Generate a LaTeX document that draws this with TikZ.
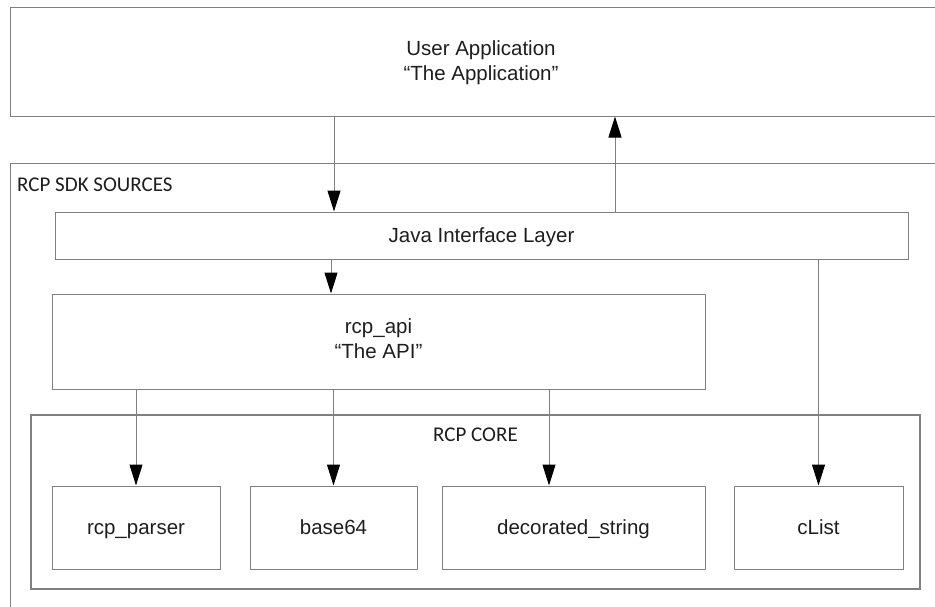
\documentclass[tikz,border=0pt]{standalone}
\usepackage{fontspec}
\setmainfont{Liberation Sans}
\newfontfamily\carl{Carlito}
\usetikzlibrary{arrows.meta}
\definecolor{linegray}{HTML}{808080}
\definecolor{txt}{HTML}{1E1E1E}
\begin{document}
\begin{tikzpicture}[x=1pt,y=-1pt,
  box/.style={draw=linegray, line width=1pt, rectangle, inner sep=0pt,
    font=\fontsize{20.5}{25}\selectfont, text=txt, align=center},
  oneline/.style={text height=15pt, text depth=1pt},
  boxtext/.style={inner sep=0pt, font=\fontsize{20.5}{25}\selectfont, text=txt, align=center},
  grp/.style={draw=linegray, line width=1.2pt, rectangle, inner sep=0pt},
  grplabel/.style={font=\carl\fontsize{21}{24}\selectfont, text=txt, inner sep=0pt},
  arr/.style={draw=linegray, line width=1pt, -{Triangle[length=21pt,width=13pt,color=black]}}]
\useasboundingbox (0,0) rectangle (935,606);
\clip (0,0) rectangle (935,606);
\fill[white] (0,0) rectangle (935,606);

% outer regions
\node[box, minimum width=942pt, minimum height=109pt] (app) at (481,61.5) {};
\node[boxtext] (apptext) at (481,63) {User Application\\“The Application”};
\node[grp, line width=1pt, minimum width=942pt, minimum height=487pt] (sdk) at (481,406.5) {};
\node[grplabel, anchor=base west] (sdklabel) at (17,191) {RCP SDK SOURCES};

% layers
\node[box, oneline, minimum width=853pt, minimum height=47pt] (java) at (481.5,235.5) {Java Interface Layer};
\node[box, minimum width=653pt, minimum height=95pt] (api) at (378.5,341.5) {};
\node[boxtext] (apitext) at (378.5,339) {rcp\_api\\“The API”};

% core group
\node[grp, minimum width=889pt, minimum height=174pt] (core) at (475.5,502) {};
\node[grplabel, anchor=base] (corelabel) at (475.5,441) {RCP CORE};

\node[box, oneline, minimum width=168pt, minimum height=83pt] (parser) at (136,527.5) {rcp\_parser};
\node[box, oneline, minimum width=167pt, minimum height=83pt] (b64) at (333.5,527.5) {base64};
\node[box, oneline, minimum width=263pt, minimum height=83pt] (dec) at (573.5,527.5) {decorated\_string};
\node[box, oneline, minimum width=169pt, minimum height=83pt] (clist) at (818.5,527.5) {cList};

% connectors
\draw[arr] (334,0 |- app.south) -- (334,0 |- java.north);
\draw[arr] (615,0 |- java.north) -- (615,0 |- app.south);
\draw[arr] (331,0 |- java.south) -- (331,0 |- api.north);
\draw[arr] (parser.north |- api.south) -- (parser.north);
\draw[arr] (b64.north |- api.south) -- (b64.north);
\draw[arr] (549,0 |- api.south) -- (549,0 |- dec.north);
\draw[arr] (clist.north |- java.south) -- (clist.north);
\end{tikzpicture}
\end{document}
